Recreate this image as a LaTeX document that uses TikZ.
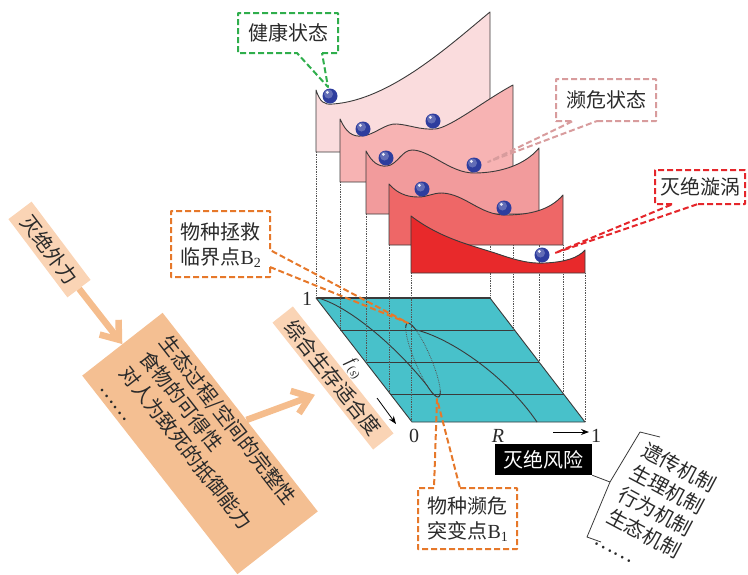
\documentclass[tikz,border=0pt]{standalone}
\usepackage{fontspec}
\setmainfont{Liberation Serif}
\newfontfamily\cjkfam{Noto Sans CJK SC}
\usetikzlibrary{arrows.meta,calc}
\definecolor{pA}{HTML}{FADCDD}
\definecolor{pB}{HTML}{F7B3B3}
\definecolor{pC}{HTML}{F29B9C}
\definecolor{pD}{HTML}{EE6767}
\definecolor{pE}{HTML}{E8292B}
\definecolor{edgec}{HTML}{3A3A3A}
\definecolor{dotc}{HTML}{555555}
\definecolor{tealc}{HTML}{48C1CA}
\definecolor{ballc}{HTML}{2E3D9E}
\definecolor{cgreen}{HTML}{2FAE4C}
\definecolor{cpink}{HTML}{D89C9D}
\definecolor{cred}{HTML}{E5262B}
\definecolor{corange}{HTML}{E6782A}
\definecolor{peachL}{HTML}{FAD4B5}
\definecolor{peachD}{HTML}{F4BF92}
\definecolor{peachA}{HTML}{F5BD8D}
\definecolor{txtc}{HTML}{2A2A2A}
\newcommand\zhf{\cjkfam\fontsize{20}{25}\selectfont}
\newcommand\latn[1]{{\normalfont #1}}
\begin{document}
\begin{tikzpicture}[x=1pt,y=-1pt,
 zh/.style={font=\zhf, text=txtc, inner sep=0pt},
 panel/.style={draw=edgec, line width=0.9pt, line join=round},
 vdot/.style={draw=dotc, densely dotted, line width=0.7pt},
 callout/.style={dash pattern=on 6pt off 3pt, line width=2pt, line join=round},
 peachbox/.style={inner sep=0pt, font=\zhf, text=txtc},
 fat/.style={draw=peachA, line width=6.5pt, -{Straight Barb[length=16pt,width=24pt]}},
 axisarrow/.style={draw=black, line width=0.8pt, -{Stealth[length=8pt,width=6pt]}},
 lbl/.style={font=\fontsize{20}{24}\selectfont, text=txtc, inner sep=0pt},
 planeline/.style={draw=edgec, line width=0.9pt}
]
\useasboundingbox (0,0) rectangle (748,574);

% ---------- plane ----------
\filldraw[fill=tealc, draw=edgec, line width=0.9pt, line join=round]
  (316,298) -- (490,298) -- (585,422) -- (412,422) -- cycle;
\draw[planeline] (340.8,330) -- (514.5,330);
\draw[planeline] (365.5,362) -- (539,362);
\draw[planeline] (390.3,394) -- (563.5,394);
\draw[edgec, line width=1.2pt] (316,298) -- (490,298);
% curves on plane: thin loop with dotted ellipse
\draw[dotc, densely dotted, line width=0.8pt, rotate around={-67:(423,360)}] (423,360) ellipse (40pt and 8pt);
\draw[planeline] plot[domain=140:205, samples=25]
  ({423+40*cos(\x)*0.39+8*sin(\x)*0.92},{360+40*cos(\x)*0.92-8*sin(\x)*0.39});
\draw[planeline] plot[domain=-50:30, samples=25]
  ({423+40*cos(\x)*0.39+8*sin(\x)*0.92},{360+40*cos(\x)*0.92-8*sin(\x)*0.39});
\draw[planeline] (318,298) .. controls (348,306) and (395,345) .. (427.4,386);
\draw[planeline] (415.8,329.8) .. controls (450,338) and (505,375) .. (537,422);

% ---------- dotted verticals ----------
\foreach \x/\a/\b in {316/152/298, 340/182/330, 366/214/362, 389/245/394, 411/273/422,
                      490/152/298, 513/182/330, 539/214/362, 563/245/394, 585/273/422}
  \draw[vdot] (\x,\a) -- (\x,\b);

% ---------- panels ----------
\filldraw[panel, fill=pA] (316,152) -- (316,90) .. controls (320,102) and (324,105) .. (333,104)
  .. controls (390,100) and (450,45) .. (490,12) -- (490,152) -- cycle;
\filldraw[panel, fill=pB] (340,182) -- (340,119) .. controls (346,132) and (352,137) .. (362,136)
  .. controls (375,135) and (385,123) .. (397,124) .. controls (410,125) and (420,130) .. (435,129)
  .. controls (450,128) and (485,100) .. (513,85) -- (513,182) -- cycle;
\filldraw[panel, fill=pC] (366,214) -- (366,151) .. controls (372,162) and (378,167) .. (387,166)
  .. controls (397,165) and (402,150) .. (412,150) .. controls (430,150) and (450,173) .. (474,173)
  .. controls (500,173) and (525,165) .. (539,148) -- (539,214) -- cycle;
\filldraw[panel, fill=pD] (389,245) -- (389,184) .. controls (396,192) and (405,197) .. (418,197)
  .. controls (428,197) and (432,193) .. (442,193) .. controls (465,194) and (480,215) .. (505,215)
  .. controls (530,215) and (550,210) .. (563,195) -- (563,245) -- cycle;
\filldraw[panel, fill=pE] (411,273) -- (411,216) .. controls (440,238) and (470,245) .. (495,253)
  .. controls (515,260) and (530,264) .. (545,263) .. controls (565,262) and (578,258) .. (585,250)
  -- (585,273) -- cycle;

% balls
\foreach \bx/\by in {330/96, 363/129, 433/121, 386/158, 474/165, 422/189, 504/208, 542/255}{
  \fill[ballc] (\bx,\by) circle (7.5pt);
  \fill[white, opacity=0.25] (\bx-1.5,\by-2) circle (4.5pt);
  \fill[white, opacity=0.85] (\bx-2.6,\by-3.6) circle (1.6pt);
}

% ---------- callouts ----------
\draw[callout, draw=cgreen] (322,53) -- (338,53) -- (338,13) -- (238,13) -- (238,53) -- (297,53) -- (328,87) -- cycle;
\node[zh] (healthy) at (288,33) {健康状态};
\draw[callout, draw=cpink] (597,121) -- (656,121) -- (656,79) -- (556,79) -- (556,121) -- (573,121) -- (488,162) -- cycle;
\node[zh] (endanger) at (606,100) {濒危状态};
\draw[callout, draw=cred] (698,204) -- (745,204) -- (745,170) -- (655,170) -- (655,204) -- (673,204) -- (555,253) -- cycle;
\node[zh] (vortex) at (700,187) {灭绝漩涡};
\draw[callout, draw=corange] (270,267) -- (270,277) -- (171,277) -- (171,211) -- (270,211) -- (270,250) -- (408,323) -- cycle;
\node[zh, align=left] (btwo) at (221,245) {物种拯救\\临界点\latn{B\textsubscript{2}}};
\draw[callout, draw=corange] (460,488) -- (517,488) -- (517,549) -- (418,549) -- (418,488) -- (434,488) -- (437,399) -- cycle;
\node[zh, align=left] (bone) at (468,519) {物种濒危\\突变点\latn{B\textsubscript{1}}};

% ---------- axis labels ----------
\node[lbl] (one) at (307,299) {1};
\node[lbl] (zero) at (414,436) {0};
\node[lbl] (R) at (498,436) {\textit{R}};
\node[lbl] (oneR) at (596,436) {1};
\coordinate (ra1) at (553,432);
\coordinate (ra2) at (589,432);
\draw[axisarrow] (ra1) -- (ra2);
\node[lbl, font=\fontsize{17}{20}\selectfont, rotate=-55] (fs) at (354,369) {\textit{f}\textsubscript{(\textit{s})}};
\coordinate (fa1) at (377,398);
\coordinate (fa2) at (396,424);
\draw[axisarrow] (fa1) -- (fa2);

\node[fill=black, text=white, font=\zhf, inner sep=0pt, minimum width=97pt, minimum height=31pt] (risk) at (543.5,459.5) {灭绝风险};

% mechanisms with brace
\node[zh, rotate=-28, align=left] (mech) at (656,511) {遗传机制\\生理机制\\行为机制\\生态机制\\……};
\draw[edgec, line width=0.8pt, line join=round] (660,437) -- (640,432) -- (610,482) -- (risk.south east);
\draw[edgec, line width=0.8pt, line join=round] (610,482) -- (587,537) -- (601,542);

% ---------- left side ----------
\node[peachbox, fill=peachL, rotate=-53, minimum width=98pt, minimum height=29pt] (waibox) at (49.5,249.5) {灭绝外力};
\node[peachbox, fill=peachD, rotate=-52, minimum width=252pt, minimum height=102pt, text width=210pt, align=left] (bigbox) at (200,443.5)
  {生态过程/空间的完整性\\食物的可得性\\对人为致死的抵御能力\\……};
\node[peachbox, fill=peachL, rotate=-51.6, minimum width=162pt, minimum height=26pt] (fitbox) at (333,378) {综合生存适合度};
\draw[fat] (waibox.east) -- (bigbox.west);
\draw[fat, shorten >=12pt] ($(bigbox.north west)!0.54!(bigbox.north east)$) -- ($(fitbox.south west)!0.535!(fitbox.south east)$);
\end{tikzpicture}
\end{document}
